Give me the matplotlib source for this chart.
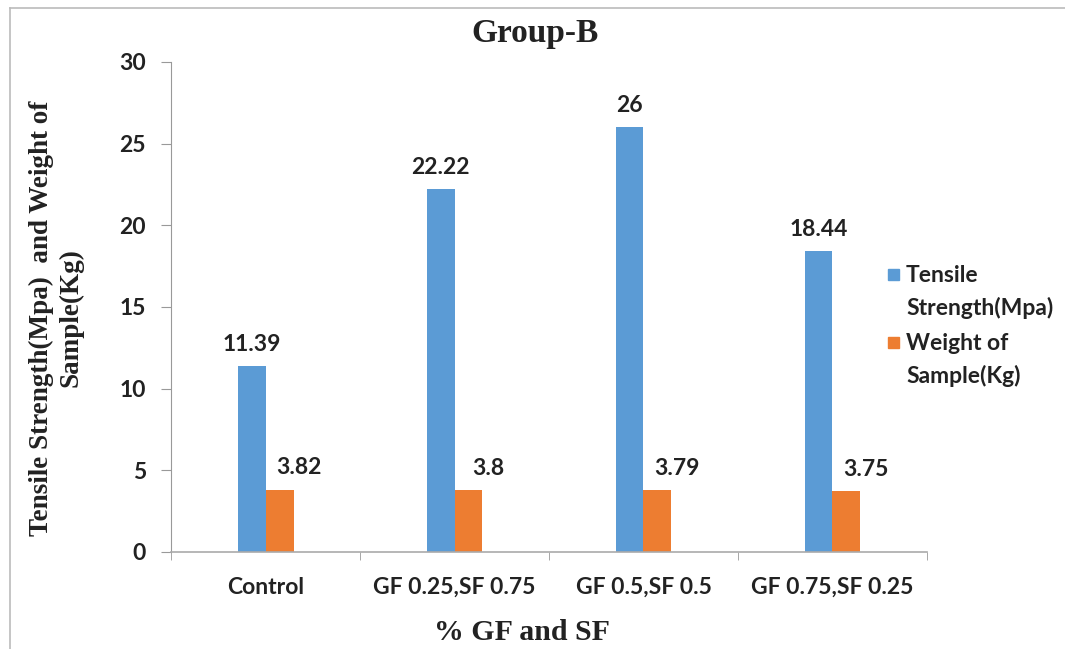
import matplotlib
matplotlib.use("Agg")
import matplotlib.pyplot as plt
import numpy as np
from matplotlib.lines import Line2D
from matplotlib.patches import Rectangle

categories = ["Control", "GF 0.25,SF 0.75", "GF 0.5,SF 0.5", "GF 0.75,SF 0.25"]
tensile = [11.39, 22.22, 26, 18.44]
weight = [3.82, 3.8, 3.79, 3.75]
tensile_labels = ["11.39", "22.22", "26", "18.44"]
weight_labels = ["3.82", "3.8", "3.79", "3.75"]
series_names = [["Tensile", "Strength(Mpa)"], ["Weight of", "Sample(Kg)"]]

BLUE = "#5B9BD5"
ORANGE = "#ED7D31"
TXT = "#222222"
SANS = ["Lato", "DejaVu Sans"]
SERIF = ["Liberation Serif", "DejaVu Serif"]
FS = 16.5

fig = plt.figure(figsize=(10.65, 6.49), dpi=100)
ax = fig.add_axes([0.1606, 0.1495, 0.7098, 0.755])

x = np.arange(len(categories))
w = 0.148
b1 = ax.bar(x - w/2, tensile, w, color=BLUE)
b2 = ax.bar(x + w/2, weight, w, color=ORANGE)

for bars, labels, dx in ((b1, tensile_labels, 0), (b2, weight_labels, 14)):
    for rect, lab in zip(bars, labels):
        ax.annotate(lab, (rect.get_x() + rect.get_width()/2, rect.get_height()),
                    xytext=(dx, 8), textcoords="offset points", ha="center", va="bottom",
                    fontsize=FS, fontweight="bold", family=SANS, color=TXT)

ax.set_xlim(-0.5, len(categories) - 0.5)
ax.set_ylim(0, 30)
ax.set_yticks(np.arange(0, 31, 5))
ax.set_xticks(x)
ax.set_xticklabels(categories)
ax.set_xticks(np.arange(-0.5, len(categories), 1), minor=True)
ax.tick_params(axis="x", which="major", length=0, pad=18)
ax.tick_params(axis="x", which="minor", length=6, color="#999999", direction="out")
ax.tick_params(axis="y", length=7, color="#999999", direction="out", pad=11)
for lab in ax.get_xticklabels() + ax.get_yticklabels():
    lab.set_fontfamily(SANS)
    lab.set_fontweight("bold")
    lab.set_fontsize(FS)
    lab.set_color(TXT)

for s in ["top", "right"]:
    ax.spines[s].set_visible(False)
ax.spines["left"].set_color("#999999")
ax.spines["bottom"].set_color("#AAAAAA")
ax.spines["bottom"].set_linewidth(1.2)

fig.text(0.502, 0.949, "Group-B", ha="center", va="center", fontsize=24,
         fontweight="bold", family=SERIF, color=TXT)
fig.text(0.490, 0.026, "% GF and SF", ha="center", va="center", fontsize=21.5,
         fontweight="bold", family=SERIF, color=TXT)
fig.text(0.053, 0.51, "Tensile Strength(Mpa)  and Weight of\nSample(Kg)", ha="center",
         va="center", rotation=90, fontsize=19.5, fontweight="bold", family=SERIF,
         color=TXT, linespacing=1.25)

# legend (manual, square aligned with first text line)
W, H = 1065.0, 649.0
leg_items = [(BLUE, 274), (ORANGE, 342)]
for (col, yc), names in zip(leg_items, series_names):
    fig.add_artist(Rectangle((888 / W, 1 - (yc + 6) / H), 11 / W, 11 / H,
                             transform=fig.transFigure, color=col))
    for i, nm in enumerate(names):
        fig.text(906 / W, 1 - (yc + 1 + 33 * i) / H, nm, ha="left", va="center",
                 fontsize=FS, fontweight="bold", family=SANS, color=TXT)

# screenshot frame lines
fig.add_artist(Line2D([0.0095, 1.0], [0.988, 0.988], transform=fig.transFigure,
                      color="#BBBBBB", lw=1.2))
fig.add_artist(Line2D([0.0095, 0.0095], [0.0, 0.988], transform=fig.transFigure,
                      color="#BBBBBB", lw=1.2))

fig.savefig("out.png", dpi=100)
